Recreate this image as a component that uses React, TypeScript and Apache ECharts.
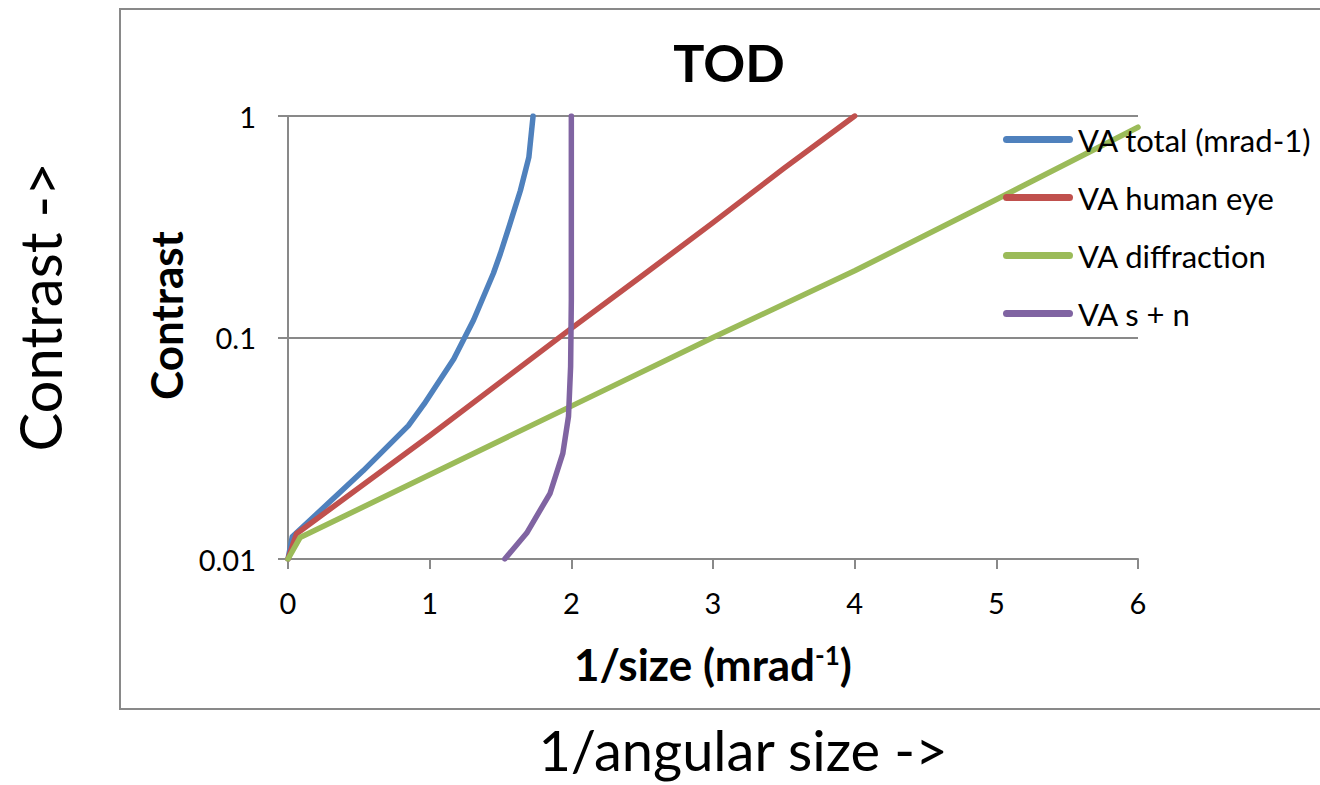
import React, { useEffect, useRef } from "react";
import * as echarts from "echarts";

const FONT = "Lato, 'Open Sans', sans-serif";

const chartTitle = "TOD";
const xAxisTitle = "1/size (mrad{sup|-1})";
const yAxisTitle = "Contrast";
const outerYLabel = "Contrast ->";
const outerXLabel = "1/angular size ->";

const seriesNames = ["VA total (mrad-1)", "VA human eye", "VA diffraction", "VA s + n"];
const seriesColors = ["#4F81BD", "#C0504D", "#9BBB59", "#8064A2"];

// [1/size (mrad^-1), contrast]
const vaTotal = [
  [0, 0.01], [0.03, 0.0126], [0.53, 0.025], [0.85, 0.04], [0.96, 0.05],
  [1.17, 0.08], [1.31, 0.12], [1.45, 0.195], [1.5, 0.24], [1.56, 0.316],
  [1.64, 0.46], [1.7, 0.65], [1.73, 1],
];
const vaHumanEye = [
  [0, 0.01], [0.06, 0.013], [1, 0.036], [2, 0.11], [2.5, 0.19],
  [3, 0.33], [3.5, 0.58], [4, 1],
];
const vaDiffraction = [
  [0, 0.01], [0.085, 0.0125], [1, 0.024], [2, 0.049], [3, 0.1],
  [4, 0.2], [5, 0.42], [6, 0.89],
];
const vaSignalNoise = [
  [1.53, 0.01], [1.685, 0.0131], [1.85, 0.0198], [1.94, 0.03], [1.98, 0.044],
  [1.995, 0.074], [2.0, 0.148], [2.0, 1],
];
const seriesData = [vaTotal, vaHumanEye, vaDiffraction, vaSignalNoise];

const GRID_GRAY = "#898989";

export default function App() {
  const ref = useRef<HTMLDivElement>(null);

  useEffect(() => {
    const chart = echarts.init(ref.current!, null, { renderer: "svg" });
    chart.setOption({
      animation: false,
      backgroundColor: "#fff",
      title: {
        text: chartTitle,
        left: 724,
        top: 31,
        textAlign: "center",
        textStyle: { fontFamily: FONT, fontSize: 52, fontWeight: "bold", color: "#000" },
      },
      legend: {
        orient: "vertical",
        left: 998,
        top: 119,
        itemWidth: 70,
        itemHeight: 7,
        itemGap: 27,
        icon: "path://M3.5,0 L66.5,0 A3.5,3.5 0 0 1 66.5,7 L3.5,7 A3.5,3.5 0 0 1 3.5,0 Z",
        textStyle: { fontFamily: FONT, fontSize: 31, color: "#000" },
        data: seriesNames,
      },
      grid: { left: 288, top: 116, width: 850, height: 443, containLabel: false },
      xAxis: {
        type: "value",
        min: 0,
        max: 6,
        interval: 1,
        axisLine: { show: true, lineStyle: { color: GRID_GRAY, width: 2 } },
        axisTick: { show: true, length: 10, lineStyle: { color: GRID_GRAY, width: 2 } },
        axisLabel: { fontFamily: FONT, fontSize: 29, color: "#000", margin: 29 },
        splitLine: { show: false },
        name: xAxisTitle,
        nameLocation: "middle",
        nameGap: 83,
        nameTextStyle: {
          fontFamily: FONT,
          fontSize: 44,
          fontWeight: "bold",
          color: "#000",
          rich: {
            sup: { fontFamily: FONT, fontSize: 26, fontWeight: "bold", color: "#000", verticalAlign: "top" },
          },
        },
      },
      yAxis: {
        type: "log",
        logBase: 10,
        min: 0.01,
        max: 1,
        axisLine: { show: true, lineStyle: { color: GRID_GRAY, width: 2 } },
        axisTick: { show: true, length: 10, lineStyle: { color: GRID_GRAY, width: 2 } },
        axisLabel: {
          fontFamily: FONT,
          fontSize: 29,
          color: "#000",
          margin: 32,
          formatter: (v: number) => String(+Number(v).toPrecision(3)),
        },
        splitLine: { show: true, lineStyle: { color: GRID_GRAY, width: 2 } },
        minorTick: { show: false },
        name: yAxisTitle,
        nameLocation: "middle",
        nameRotate: 90,
        nameGap: 67,
        nameTextStyle: {
          fontFamily: FONT,
          fontSize: 44,
          fontWeight: "bold",
          color: "#000",
          padding: [0, 0, 0, 44],
        },
      },
      series: seriesNames.map((name, i) => ({
        name,
        type: "line",
        data: seriesData[i],
        showSymbol: false,
        symbol: "none",
        itemStyle: { color: seriesColors[i] },
        lineStyle: { color: seriesColors[i], width: 5.5, cap: "round", join: "round" },
      })),
      graphic: [
        {
          type: "rect",
          silent: true,
          z: -10,
          shape: { x: 120, y: 9, width: 1300, height: 700 },
          style: { fill: "none", stroke: GRID_GRAY, lineWidth: 2 },
        },
        {
          type: "text",
          x: 39,
          y: 307,
          rotation: Math.PI / 2,
          style: {
            text: outerYLabel,
            fontFamily: FONT,
            fontSize: 58,
            fill: "#000",
            align: "center",
            verticalAlign: "middle",
          },
        },
        {
          type: "text",
          x: 743,
          y: 749,
          style: {
            text: outerXLabel,
            fontFamily: FONT,
            fontSize: 56,
            fill: "#000",
            align: "center",
            verticalAlign: "middle",
          },
        },
      ],
    });
    return () => chart.dispose();
  }, []);

  return (
    <div
      ref={ref}
      style={{ position: "fixed", left: 0, top: 0, width: 1320, height: 785, background: "#fff" }}
    />
  );
}
